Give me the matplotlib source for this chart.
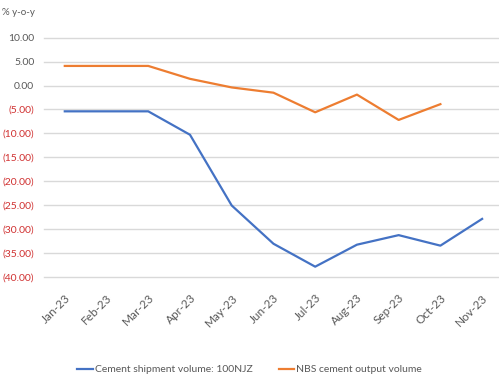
import numpy as np
import matplotlib.pyplot as plt

plt.rcParams['font.family'] = ['Lato', 'DejaVu Sans']

months = ['Jan-23', 'Feb-23', 'Mar-23', 'Apr-23', 'May-23', 'Jun-23',
          'Jul-23', 'Aug-23', 'Sep-23', 'Oct-23', 'Nov-23']
shipment = [-5.4, -5.4, -5.4, -10.3, -25.1, -33.1, -37.9, -33.3, -31.3, -33.5, -27.9]
nbs_output = [4.1, 4.1, 4.1, 1.4, -0.4, -1.5, -5.6, -1.9, -7.2, -3.9]
yticks = [10, 5, 0, -5, -10, -15, -20, -25, -30, -35, -40]

fig = plt.figure(figsize=(4.99, 3.83), dpi=100)
ax = fig.add_axes([0.088, 0.2775, 0.92, 0.624])

x = np.arange(len(months))
ax.plot(x, shipment, color='#4472C4', lw=1.6, label='Cement shipment volume: 100NJZ')
ax.plot(x[:len(nbs_output)], nbs_output, color='#ED7D31', lw=1.6, label='NBS cement output volume')

ax.set_xlim(-0.5, 10.5)
ax.set_ylim(-40, 10)
ax.set_yticks(yticks)
ax.yaxis.grid(True, color='#D9D9D9', lw=1)
for gl in ax.yaxis.get_gridlines():
    gl.set_clip_on(False)
ax.set_axisbelow(True)
for s in ax.spines.values():
    s.set_visible(False)
ax.tick_params(length=0)

labels = []
for v in yticks:
    if v < 0:
        labels.append('(%.2f)' % abs(v))
    else:
        labels.append('%.2f' % v)
ax.set_yticklabels(labels, fontsize=7.5)
for t, v in zip(ax.get_yticklabels(), yticks):
    t.set_color('#D03030' if v < 0 else '#595959')
ax.tick_params(axis='y', pad=7)

ax.set_xticks(x)
ax.set_xticklabels(months, rotation=45, ha='right', rotation_mode='anchor',
                   fontsize=8.5, color='#595959')
ax.tick_params(axis='x', pad=11)

fig.text(0.004, 0.968, '% y-o-y', fontsize=7, color='#595959', va='center')

fig.legend(loc='center', bbox_to_anchor=(0.5, 0.035), ncol=2, frameon=False,
           fontsize=7.5, handlelength=1.5, handletextpad=0.2, columnspacing=2.5,
           labelcolor='#595959')

fig.savefig('out.png', dpi=100)
